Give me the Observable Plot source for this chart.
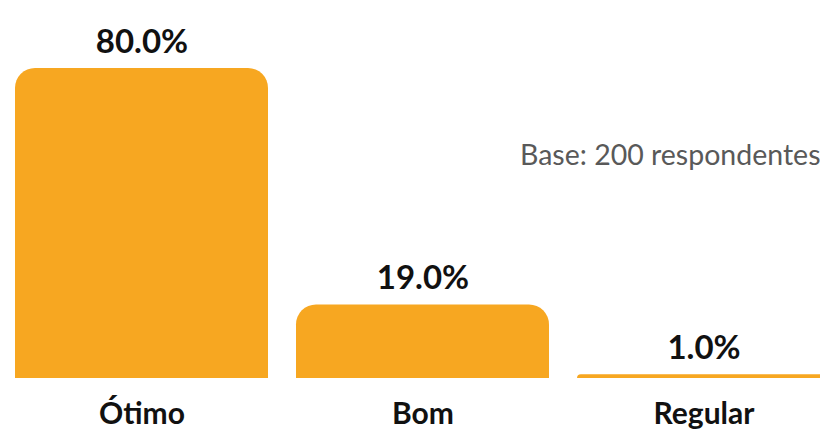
<!DOCTYPE html>
<html>
<head>
<meta charset="utf-8">
<script src="https://cdn.jsdelivr.net/npm/d3@7"></script>
<script src="https://cdn.jsdelivr.net/npm/@observablehq/plot@0.6"></script>
<style>
  html, body { margin: 0; padding: 0; background: #fff; }
  #chart svg { display: block; }
</style>
</head>
<body>
<div id="chart"></div>
<script>
const categories = ["Ótimo", "Bom", "Regular"];
const values = [80.0, 19.0, 1.0];
const valueLabels = ["80.0%", "19.0%", "1.0%"];
const note = "Base: 200 respondentes";

const data = categories.map((c, i) => ({category: c, value: values[i], label: valueLabels[i]}));

const barColor = "#F7A721";
const font = "Lato, 'Open Sans', sans-serif";

const chart = Plot.plot({
  width: 820,
  height: 429,
  marginTop: 68,
  marginBottom: 51,
  marginLeft: 15,
  marginRight: 0,
  style: {fontFamily: font, background: "#fff"},
  x: {domain: categories, range: [15, 830], paddingInner: 0.1, paddingOuter: 0, axis: null},
  y: {domain: [0, 80], axis: null},
  marks: [
    Plot.barY(data, {x: "category", y: "value", fill: barColor, rx1y1: 20, rx2y1: 20}),
    Plot.text(data, {x: "category", y: "value", text: "label", lineAnchor: "bottom", dy: -16,
      fontSize: 33, fontWeight: "bold", fill: "#111"}),
    Plot.text(data, {x: "category", y: 0, text: "category", lineAnchor: "bottom", dy: 45,
      fontSize: 30, fontWeight: "bold", fill: "#111"}),
    Plot.text([note], {frameAnchor: "top-right", text: d => d, lineAnchor: "bottom", dy: 96,
      fontSize: 28.5, fontWeight: "normal", fill: "#595959"})
  ]
});
document.getElementById("chart").appendChild(chart);
</script>
</body>
</html>
